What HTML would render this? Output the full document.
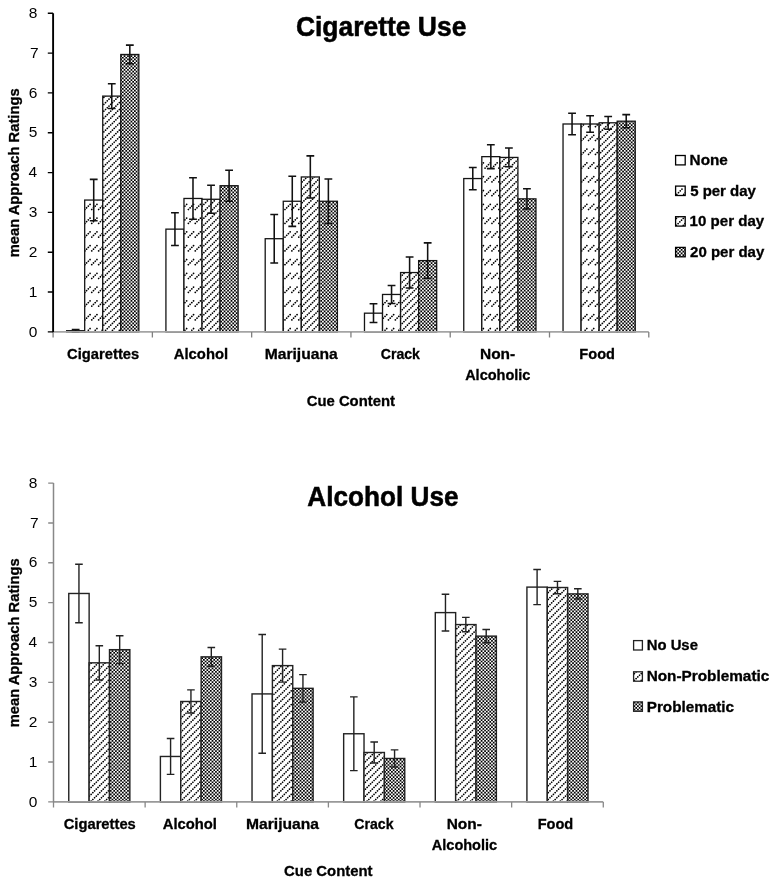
<!DOCTYPE html><html><head><meta charset="utf-8"><style>html,body{margin:0;padding:0;background:#fff;}svg{display:block;will-change:transform;} text{font-family:"Liberation Sans", sans-serif;}</style></head><body>
<svg width="776" height="884" viewBox="0 0 776 884">
<rect width="776" height="884" fill="#fff"/>
<rect x="66.64" y="330.71" width="18.05" height="1.19" fill="#fff" stroke="#151515" stroke-width="1.3"/>
<clipPath id="k1"><rect x="84.69" y="200.06" width="18.05" height="131.84"/></clipPath>
<g clip-path="url(#k1)">
<rect x="84.69" y="200.06" width="18.05" height="131.84" fill="#fff"/>
<path d="M84.870 209.500l5.195 -5.195M91.770 209.500l5.195 -5.195M98.670 209.500l5.195 -5.195M84.870 223.300l5.195 -5.195M91.770 223.300l5.195 -5.195M98.670 223.300l5.195 -5.195M84.870 237.100l5.195 -5.195M91.770 237.100l5.195 -5.195M98.670 237.100l5.195 -5.195M84.870 250.900l5.195 -5.195M91.770 250.900l5.195 -5.195M98.670 250.900l5.195 -5.195M84.870 264.700l5.195 -5.195M91.770 264.700l5.195 -5.195M98.670 264.700l5.195 -5.195M84.870 278.500l5.195 -5.195M91.770 278.500l5.195 -5.195M98.670 278.500l5.195 -5.195M84.870 292.300l5.195 -5.195M91.770 292.300l5.195 -5.195M98.670 292.300l5.195 -5.195M84.870 306.100l5.195 -5.195M91.770 306.100l5.195 -5.195M98.670 306.100l5.195 -5.195M84.870 319.900l5.195 -5.195M91.770 319.900l5.195 -5.195M98.670 319.900l5.195 -5.195M84.870 333.700l5.195 -5.195M91.770 333.700l5.195 -5.195M98.670 333.700l5.195 -5.195" stroke="#000" stroke-width="1.7" stroke-linecap="round" stroke-dasharray="0.01 2.4295" fill="none"/>
</g>
<rect x="84.69" y="200.06" width="18.05" height="131.84" fill="none" stroke="#151515" stroke-width="1.3"/>
<clipPath id="k2"><rect x="102.74" y="96.11" width="18.05" height="235.79"/></clipPath>
<g clip-path="url(#k2)">
<rect x="102.74" y="96.11" width="18.05" height="235.79" fill="#fff"/>
<path d="M-148.020 335.470l241.52 -241.52M-141.120 335.470l241.52 -241.52M-134.220 335.470l241.52 -241.52M-127.320 335.470l241.52 -241.52M-120.420 335.470l241.52 -241.52M-113.520 335.470l241.52 -241.52M-106.620 335.470l241.52 -241.52M-99.720 335.470l241.52 -241.52M-92.820 335.470l241.52 -241.52M-85.920 335.470l241.52 -241.52M-79.020 335.470l241.52 -241.52M-72.120 335.470l241.52 -241.52M-65.220 335.470l241.52 -241.52M-58.320 335.470l241.52 -241.52M-51.420 335.470l241.52 -241.52M-44.520 335.470l241.52 -241.52M-37.620 335.470l241.52 -241.52M-30.720 335.470l241.52 -241.52M-23.820 335.470l241.52 -241.52M-16.920 335.470l241.52 -241.52M-10.020 335.470l241.52 -241.52M-3.120 335.470l241.52 -241.52M3.780 335.470l241.52 -241.52M10.680 335.470l241.52 -241.52M17.580 335.470l241.52 -241.52M24.480 335.470l241.52 -241.52M31.380 335.470l241.52 -241.52M38.280 335.470l241.52 -241.52M45.180 335.470l241.52 -241.52M52.080 335.470l241.52 -241.52M58.980 335.470l241.52 -241.52M65.880 335.470l241.52 -241.52M72.780 335.470l241.52 -241.52M79.680 335.470l241.52 -241.52M86.580 335.470l241.52 -241.52M93.480 335.470l241.52 -241.52M100.380 335.470l241.52 -241.52M107.280 335.470l241.52 -241.52M114.180 335.470l241.52 -241.52M121.080 335.470l241.52 -241.52M127.980 335.470l241.52 -241.52" stroke="#000" stroke-width="1.7" stroke-linecap="round" stroke-dasharray="0.01 2.4295" fill="none"/>
</g>
<rect x="102.74" y="96.11" width="18.05" height="235.79" fill="none" stroke="#151515" stroke-width="1.3"/>
<clipPath id="k3"><rect x="120.79" y="54.48" width="18.05" height="277.42"/></clipPath>
<g clip-path="url(#k3)">
<rect x="120.79" y="54.48" width="18.05" height="277.42" fill="#fff"/>
<path d="M116.768 52.570H140.84M116.768 56.020H140.84M116.768 59.470H140.84M116.768 62.920H140.84M116.768 66.370H140.84M116.768 69.820H140.84M116.768 73.270H140.84M116.768 76.720H140.84M116.768 80.170H140.84M116.768 83.620H140.84M116.768 87.070H140.84M116.768 90.520H140.84M116.768 93.970H140.84M116.768 97.420H140.84M116.768 100.870H140.84M116.768 104.320H140.84M116.768 107.770H140.84M116.768 111.220H140.84M116.768 114.670H140.84M116.768 118.120H140.84M116.768 121.570H140.84M116.768 125.020H140.84M116.768 128.470H140.84M116.768 131.920H140.84M116.768 135.370H140.84M116.768 138.820H140.84M116.768 142.270H140.84M116.768 145.720H140.84M116.768 149.170H140.84M116.768 152.620H140.84M116.768 156.070H140.84M116.768 159.520H140.84M116.768 162.970H140.84M116.768 166.420H140.84M116.768 169.870H140.84M116.768 173.320H140.84M116.768 176.770H140.84M116.768 180.220H140.84M116.768 183.670H140.84M116.768 187.120H140.84M116.768 190.570H140.84M116.768 194.020H140.84M116.768 197.470H140.84M116.768 200.920H140.84M116.768 204.370H140.84M116.768 207.820H140.84M116.768 211.270H140.84M116.768 214.720H140.84M116.768 218.170H140.84M116.768 221.620H140.84M116.768 225.070H140.84M116.768 228.520H140.84M116.768 231.970H140.84M116.768 235.420H140.84M116.768 238.870H140.84M116.768 242.320H140.84M116.768 245.770H140.84M116.768 249.220H140.84M116.768 252.670H140.84M116.768 256.120H140.84M116.768 259.570H140.84M116.768 263.020H140.84M116.768 266.470H140.84M116.768 269.920H140.84M116.768 273.370H140.84M116.768 276.820H140.84M116.768 280.270H140.84M116.768 283.720H140.84M116.768 287.170H140.84M116.768 290.620H140.84M116.768 294.070H140.84M116.768 297.520H140.84M116.768 300.970H140.84M116.768 304.420H140.84M116.768 307.870H140.84M116.768 311.320H140.84M116.768 314.770H140.84M116.768 318.220H140.84M116.768 321.670H140.84M116.768 325.120H140.84M116.768 328.570H140.84M116.768 332.020H140.84M116.768 335.470H140.84M118.493 54.295H140.84M118.493 57.745H140.84M118.493 61.195H140.84M118.493 64.645H140.84M118.493 68.095H140.84M118.493 71.545H140.84M118.493 74.995H140.84M118.493 78.445H140.84M118.493 81.895H140.84M118.493 85.345H140.84M118.493 88.795H140.84M118.493 92.245H140.84M118.493 95.695H140.84M118.493 99.145H140.84M118.493 102.595H140.84M118.493 106.045H140.84M118.493 109.495H140.84M118.493 112.945H140.84M118.493 116.395H140.84M118.493 119.845H140.84M118.493 123.295H140.84M118.493 126.745H140.84M118.493 130.195H140.84M118.493 133.645H140.84M118.493 137.095H140.84M118.493 140.545H140.84M118.493 143.995H140.84M118.493 147.445H140.84M118.493 150.895H140.84M118.493 154.345H140.84M118.493 157.795H140.84M118.493 161.245H140.84M118.493 164.695H140.84M118.493 168.145H140.84M118.493 171.595H140.84M118.493 175.045H140.84M118.493 178.495H140.84M118.493 181.945H140.84M118.493 185.395H140.84M118.493 188.845H140.84M118.493 192.295H140.84M118.493 195.745H140.84M118.493 199.195H140.84M118.493 202.645H140.84M118.493 206.095H140.84M118.493 209.545H140.84M118.493 212.995H140.84M118.493 216.445H140.84M118.493 219.895H140.84M118.493 223.345H140.84M118.493 226.795H140.84M118.493 230.245H140.84M118.493 233.695H140.84M118.493 237.145H140.84M118.493 240.595H140.84M118.493 244.045H140.84M118.493 247.495H140.84M118.493 250.945H140.84M118.493 254.395H140.84M118.493 257.845H140.84M118.493 261.295H140.84M118.493 264.745H140.84M118.493 268.195H140.84M118.493 271.645H140.84M118.493 275.095H140.84M118.493 278.545H140.84M118.493 281.995H140.84M118.493 285.445H140.84M118.493 288.895H140.84M118.493 292.345H140.84M118.493 295.795H140.84M118.493 299.245H140.84M118.493 302.695H140.84M118.493 306.145H140.84M118.493 309.595H140.84M118.493 313.045H140.84M118.493 316.495H140.84M118.493 319.945H140.84M118.493 323.395H140.84M118.493 326.845H140.84M118.493 330.295H140.84M118.493 333.745H140.84" stroke="#000" stroke-width="1.725" stroke-dasharray="1.725 1.725" fill="none"/>
</g>
<rect x="120.79" y="54.48" width="18.05" height="277.42" fill="none" stroke="#151515" stroke-width="1.3"/>
<rect x="165.92" y="229.14" width="18.05" height="102.76" fill="#fff" stroke="#151515" stroke-width="1.3"/>
<clipPath id="k4"><rect x="183.97" y="198.47" width="18.05" height="133.43"/></clipPath>
<g clip-path="url(#k4)">
<rect x="183.97" y="198.47" width="18.05" height="133.43" fill="#fff"/>
<path d="M181.470 209.500l5.195 -5.195M188.370 209.500l5.195 -5.195M195.270 209.500l5.195 -5.195M202.170 209.500l5.195 -5.195M181.470 223.300l5.195 -5.195M188.370 223.300l5.195 -5.195M195.270 223.300l5.195 -5.195M202.170 223.300l5.195 -5.195M181.470 237.100l5.195 -5.195M188.370 237.100l5.195 -5.195M195.270 237.100l5.195 -5.195M202.170 237.100l5.195 -5.195M181.470 250.900l5.195 -5.195M188.370 250.900l5.195 -5.195M195.270 250.900l5.195 -5.195M202.170 250.900l5.195 -5.195M181.470 264.700l5.195 -5.195M188.370 264.700l5.195 -5.195M195.270 264.700l5.195 -5.195M202.170 264.700l5.195 -5.195M181.470 278.500l5.195 -5.195M188.370 278.500l5.195 -5.195M195.270 278.500l5.195 -5.195M202.170 278.500l5.195 -5.195M181.470 292.300l5.195 -5.195M188.370 292.300l5.195 -5.195M195.270 292.300l5.195 -5.195M202.170 292.300l5.195 -5.195M181.470 306.100l5.195 -5.195M188.370 306.100l5.195 -5.195M195.270 306.100l5.195 -5.195M202.170 306.100l5.195 -5.195M181.470 319.900l5.195 -5.195M188.370 319.900l5.195 -5.195M195.270 319.900l5.195 -5.195M202.170 319.900l5.195 -5.195M181.470 333.700l5.195 -5.195M188.370 333.700l5.195 -5.195M195.270 333.700l5.195 -5.195M202.170 333.700l5.195 -5.195" stroke="#000" stroke-width="1.7" stroke-linecap="round" stroke-dasharray="0.01 2.4295" fill="none"/>
</g>
<rect x="183.97" y="198.47" width="18.05" height="133.43" fill="none" stroke="#151515" stroke-width="1.3"/>
<clipPath id="k5"><rect x="202.02" y="199.27" width="18.05" height="132.63"/></clipPath>
<g clip-path="url(#k5)">
<rect x="202.02" y="199.27" width="18.05" height="132.63" fill="#fff"/>
<path d="M52.080 335.470l138.36 -138.36M58.980 335.470l138.36 -138.36M65.880 335.470l138.36 -138.36M72.780 335.470l138.36 -138.36M79.680 335.470l138.36 -138.36M86.580 335.470l138.36 -138.36M93.480 335.470l138.36 -138.36M100.380 335.470l138.36 -138.36M107.280 335.470l138.36 -138.36M114.180 335.470l138.36 -138.36M121.080 335.470l138.36 -138.36M127.980 335.470l138.36 -138.36M134.880 335.470l138.36 -138.36M141.780 335.470l138.36 -138.36M148.680 335.470l138.36 -138.36M155.580 335.470l138.36 -138.36M162.480 335.470l138.36 -138.36M169.380 335.470l138.36 -138.36M176.280 335.470l138.36 -138.36M183.180 335.470l138.36 -138.36M190.080 335.470l138.36 -138.36M196.980 335.470l138.36 -138.36M203.880 335.470l138.36 -138.36M210.780 335.470l138.36 -138.36M217.680 335.470l138.36 -138.36M224.580 335.470l138.36 -138.36" stroke="#000" stroke-width="1.7" stroke-linecap="round" stroke-dasharray="0.01 2.4295" fill="none"/>
</g>
<rect x="202.02" y="199.27" width="18.05" height="132.63" fill="none" stroke="#151515" stroke-width="1.3"/>
<clipPath id="k6"><rect x="220.07" y="185.72" width="18.05" height="146.18"/></clipPath>
<g clip-path="url(#k6)">
<rect x="220.07" y="185.72" width="18.05" height="146.18" fill="#fff"/>
<path d="M216.818 183.670H240.12M216.818 187.120H240.12M216.818 190.570H240.12M216.818 194.020H240.12M216.818 197.470H240.12M216.818 200.920H240.12M216.818 204.370H240.12M216.818 207.820H240.12M216.818 211.270H240.12M216.818 214.720H240.12M216.818 218.170H240.12M216.818 221.620H240.12M216.818 225.070H240.12M216.818 228.520H240.12M216.818 231.970H240.12M216.818 235.420H240.12M216.818 238.870H240.12M216.818 242.320H240.12M216.818 245.770H240.12M216.818 249.220H240.12M216.818 252.670H240.12M216.818 256.120H240.12M216.818 259.570H240.12M216.818 263.020H240.12M216.818 266.470H240.12M216.818 269.920H240.12M216.818 273.370H240.12M216.818 276.820H240.12M216.818 280.270H240.12M216.818 283.720H240.12M216.818 287.170H240.12M216.818 290.620H240.12M216.818 294.070H240.12M216.818 297.520H240.12M216.818 300.970H240.12M216.818 304.420H240.12M216.818 307.870H240.12M216.818 311.320H240.12M216.818 314.770H240.12M216.818 318.220H240.12M216.818 321.670H240.12M216.818 325.120H240.12M216.818 328.570H240.12M216.818 332.020H240.12M216.818 335.470H240.12M218.543 185.395H240.12M218.543 188.845H240.12M218.543 192.295H240.12M218.543 195.745H240.12M218.543 199.195H240.12M218.543 202.645H240.12M218.543 206.095H240.12M218.543 209.545H240.12M218.543 212.995H240.12M218.543 216.445H240.12M218.543 219.895H240.12M218.543 223.345H240.12M218.543 226.795H240.12M218.543 230.245H240.12M218.543 233.695H240.12M218.543 237.145H240.12M218.543 240.595H240.12M218.543 244.045H240.12M218.543 247.495H240.12M218.543 250.945H240.12M218.543 254.395H240.12M218.543 257.845H240.12M218.543 261.295H240.12M218.543 264.745H240.12M218.543 268.195H240.12M218.543 271.645H240.12M218.543 275.095H240.12M218.543 278.545H240.12M218.543 281.995H240.12M218.543 285.445H240.12M218.543 288.895H240.12M218.543 292.345H240.12M218.543 295.795H240.12M218.543 299.245H240.12M218.543 302.695H240.12M218.543 306.145H240.12M218.543 309.595H240.12M218.543 313.045H240.12M218.543 316.495H240.12M218.543 319.945H240.12M218.543 323.395H240.12M218.543 326.845H240.12M218.543 330.295H240.12M218.543 333.745H240.12" stroke="#000" stroke-width="1.725" stroke-dasharray="1.725 1.725" fill="none"/>
</g>
<rect x="220.07" y="185.72" width="18.05" height="146.18" fill="none" stroke="#151515" stroke-width="1.3"/>
<rect x="265.20" y="238.70" width="18.05" height="93.20" fill="#fff" stroke="#151515" stroke-width="1.3"/>
<clipPath id="k7"><rect x="283.25" y="201.26" width="18.05" height="130.64"/></clipPath>
<g clip-path="url(#k7)">
<rect x="283.25" y="201.26" width="18.05" height="130.64" fill="#fff"/>
<path d="M278.070 209.500l5.195 -5.195M284.970 209.500l5.195 -5.195M291.870 209.500l5.195 -5.195M298.770 209.500l5.195 -5.195M278.070 223.300l5.195 -5.195M284.970 223.300l5.195 -5.195M291.870 223.300l5.195 -5.195M298.770 223.300l5.195 -5.195M278.070 237.100l5.195 -5.195M284.970 237.100l5.195 -5.195M291.870 237.100l5.195 -5.195M298.770 237.100l5.195 -5.195M278.070 250.900l5.195 -5.195M284.970 250.900l5.195 -5.195M291.870 250.900l5.195 -5.195M298.770 250.900l5.195 -5.195M278.070 264.700l5.195 -5.195M284.970 264.700l5.195 -5.195M291.870 264.700l5.195 -5.195M298.770 264.700l5.195 -5.195M278.070 278.500l5.195 -5.195M284.970 278.500l5.195 -5.195M291.870 278.500l5.195 -5.195M298.770 278.500l5.195 -5.195M278.070 292.300l5.195 -5.195M284.970 292.300l5.195 -5.195M291.870 292.300l5.195 -5.195M298.770 292.300l5.195 -5.195M278.070 306.100l5.195 -5.195M284.970 306.100l5.195 -5.195M291.870 306.100l5.195 -5.195M298.770 306.100l5.195 -5.195M278.070 319.900l5.195 -5.195M284.970 319.900l5.195 -5.195M291.870 319.900l5.195 -5.195M298.770 319.900l5.195 -5.195M278.070 333.700l5.195 -5.195M284.970 333.700l5.195 -5.195M291.870 333.700l5.195 -5.195M298.770 333.700l5.195 -5.195" stroke="#000" stroke-width="1.7" stroke-linecap="round" stroke-dasharray="0.01 2.4295" fill="none"/>
</g>
<rect x="283.25" y="201.26" width="18.05" height="130.64" fill="none" stroke="#151515" stroke-width="1.3"/>
<clipPath id="k8"><rect x="301.30" y="176.96" width="18.05" height="154.94"/></clipPath>
<g clip-path="url(#k8)">
<rect x="301.30" y="176.96" width="18.05" height="154.94" fill="#fff"/>
<path d="M134.880 335.470l160.66 -160.66M141.780 335.470l160.66 -160.66M148.680 335.470l160.66 -160.66M155.580 335.470l160.66 -160.66M162.480 335.470l160.66 -160.66M169.380 335.470l160.66 -160.66M176.280 335.470l160.66 -160.66M183.180 335.470l160.66 -160.66M190.080 335.470l160.66 -160.66M196.980 335.470l160.66 -160.66M203.880 335.470l160.66 -160.66M210.780 335.470l160.66 -160.66M217.680 335.470l160.66 -160.66M224.580 335.470l160.66 -160.66M231.480 335.470l160.66 -160.66M238.380 335.470l160.66 -160.66M245.280 335.470l160.66 -160.66M252.180 335.470l160.66 -160.66M259.080 335.470l160.66 -160.66M265.980 335.470l160.66 -160.66M272.880 335.470l160.66 -160.66M279.780 335.470l160.66 -160.66M286.680 335.470l160.66 -160.66M293.580 335.470l160.66 -160.66M300.480 335.470l160.66 -160.66M307.380 335.470l160.66 -160.66M314.280 335.470l160.66 -160.66M321.180 335.470l160.66 -160.66M328.080 335.470l160.66 -160.66" stroke="#000" stroke-width="1.7" stroke-linecap="round" stroke-dasharray="0.01 2.4295" fill="none"/>
</g>
<rect x="301.30" y="176.96" width="18.05" height="154.94" fill="none" stroke="#151515" stroke-width="1.3"/>
<clipPath id="k9"><rect x="319.35" y="201.26" width="18.05" height="130.64"/></clipPath>
<g clip-path="url(#k9)">
<rect x="319.35" y="201.26" width="18.05" height="130.64" fill="#fff"/>
<path d="M316.868 200.920H339.40M316.868 204.370H339.40M316.868 207.820H339.40M316.868 211.270H339.40M316.868 214.720H339.40M316.868 218.170H339.40M316.868 221.620H339.40M316.868 225.070H339.40M316.868 228.520H339.40M316.868 231.970H339.40M316.868 235.420H339.40M316.868 238.870H339.40M316.868 242.320H339.40M316.868 245.770H339.40M316.868 249.220H339.40M316.868 252.670H339.40M316.868 256.120H339.40M316.868 259.570H339.40M316.868 263.020H339.40M316.868 266.470H339.40M316.868 269.920H339.40M316.868 273.370H339.40M316.868 276.820H339.40M316.868 280.270H339.40M316.868 283.720H339.40M316.868 287.170H339.40M316.868 290.620H339.40M316.868 294.070H339.40M316.868 297.520H339.40M316.868 300.970H339.40M316.868 304.420H339.40M316.868 307.870H339.40M316.868 311.320H339.40M316.868 314.770H339.40M316.868 318.220H339.40M316.868 321.670H339.40M316.868 325.120H339.40M316.868 328.570H339.40M316.868 332.020H339.40M316.868 335.470H339.40M318.593 199.195H339.40M318.593 202.645H339.40M318.593 206.095H339.40M318.593 209.545H339.40M318.593 212.995H339.40M318.593 216.445H339.40M318.593 219.895H339.40M318.593 223.345H339.40M318.593 226.795H339.40M318.593 230.245H339.40M318.593 233.695H339.40M318.593 237.145H339.40M318.593 240.595H339.40M318.593 244.045H339.40M318.593 247.495H339.40M318.593 250.945H339.40M318.593 254.395H339.40M318.593 257.845H339.40M318.593 261.295H339.40M318.593 264.745H339.40M318.593 268.195H339.40M318.593 271.645H339.40M318.593 275.095H339.40M318.593 278.545H339.40M318.593 281.995H339.40M318.593 285.445H339.40M318.593 288.895H339.40M318.593 292.345H339.40M318.593 295.795H339.40M318.593 299.245H339.40M318.593 302.695H339.40M318.593 306.145H339.40M318.593 309.595H339.40M318.593 313.045H339.40M318.593 316.495H339.40M318.593 319.945H339.40M318.593 323.395H339.40M318.593 326.845H339.40M318.593 330.295H339.40M318.593 333.745H339.40" stroke="#000" stroke-width="1.725" stroke-dasharray="1.725 1.725" fill="none"/>
</g>
<rect x="319.35" y="201.26" width="18.05" height="130.64" fill="none" stroke="#151515" stroke-width="1.3"/>
<rect x="364.48" y="313.18" width="18.05" height="18.72" fill="#fff" stroke="#151515" stroke-width="1.3"/>
<clipPath id="k10"><rect x="382.53" y="294.46" width="18.05" height="37.44"/></clipPath>
<g clip-path="url(#k10)">
<rect x="382.53" y="294.46" width="18.05" height="37.44" fill="#fff"/>
<path d="M381.570 306.100l5.195 -5.195M388.470 306.100l5.195 -5.195M395.370 306.100l5.195 -5.195M381.570 319.900l5.195 -5.195M388.470 319.900l5.195 -5.195M395.370 319.900l5.195 -5.195M381.570 333.700l5.195 -5.195M388.470 333.700l5.195 -5.195M395.370 333.700l5.195 -5.195" stroke="#000" stroke-width="1.7" stroke-linecap="round" stroke-dasharray="0.01 2.4295" fill="none"/>
</g>
<rect x="382.53" y="294.46" width="18.05" height="37.44" fill="none" stroke="#151515" stroke-width="1.3"/>
<clipPath id="k11"><rect x="400.58" y="272.55" width="18.05" height="59.35"/></clipPath>
<g clip-path="url(#k11)">
<rect x="400.58" y="272.55" width="18.05" height="59.35" fill="#fff"/>
<path d="M328.080 335.470l65.07 -65.07M334.980 335.470l65.07 -65.07M341.880 335.470l65.07 -65.07M348.780 335.470l65.07 -65.07M355.680 335.470l65.07 -65.07M362.580 335.470l65.07 -65.07M369.480 335.470l65.07 -65.07M376.380 335.470l65.07 -65.07M383.280 335.470l65.07 -65.07M390.180 335.470l65.07 -65.07M397.080 335.470l65.07 -65.07M403.980 335.470l65.07 -65.07M410.880 335.470l65.07 -65.07M417.780 335.470l65.07 -65.07M424.680 335.470l65.07 -65.07" stroke="#000" stroke-width="1.7" stroke-linecap="round" stroke-dasharray="0.01 2.4295" fill="none"/>
</g>
<rect x="400.58" y="272.55" width="18.05" height="59.35" fill="none" stroke="#151515" stroke-width="1.3"/>
<clipPath id="k12"><rect x="418.63" y="260.60" width="18.05" height="71.30"/></clipPath>
<g clip-path="url(#k12)">
<rect x="418.63" y="260.60" width="18.05" height="71.30" fill="#fff"/>
<path d="M413.467 259.570H438.68M413.467 263.020H438.68M413.467 266.470H438.68M413.467 269.920H438.68M413.467 273.370H438.68M413.467 276.820H438.68M413.467 280.270H438.68M413.467 283.720H438.68M413.467 287.170H438.68M413.467 290.620H438.68M413.467 294.070H438.68M413.467 297.520H438.68M413.467 300.970H438.68M413.467 304.420H438.68M413.467 307.870H438.68M413.467 311.320H438.68M413.467 314.770H438.68M413.467 318.220H438.68M413.467 321.670H438.68M413.467 325.120H438.68M413.467 328.570H438.68M413.467 332.020H438.68M413.467 335.470H438.68M415.192 261.295H438.68M415.192 264.745H438.68M415.192 268.195H438.68M415.192 271.645H438.68M415.192 275.095H438.68M415.192 278.545H438.68M415.192 281.995H438.68M415.192 285.445H438.68M415.192 288.895H438.68M415.192 292.345H438.68M415.192 295.795H438.68M415.192 299.245H438.68M415.192 302.695H438.68M415.192 306.145H438.68M415.192 309.595H438.68M415.192 313.045H438.68M415.192 316.495H438.68M415.192 319.945H438.68M415.192 323.395H438.68M415.192 326.845H438.68M415.192 330.295H438.68M415.192 333.745H438.68" stroke="#000" stroke-width="1.725" stroke-dasharray="1.725 1.725" fill="none"/>
</g>
<rect x="418.63" y="260.60" width="18.05" height="71.30" fill="none" stroke="#151515" stroke-width="1.3"/>
<rect x="463.76" y="178.55" width="18.05" height="153.35" fill="#fff" stroke="#151515" stroke-width="1.3"/>
<clipPath id="k13"><rect x="481.81" y="156.65" width="18.05" height="175.25"/></clipPath>
<g clip-path="url(#k13)">
<rect x="481.81" y="156.65" width="18.05" height="175.25" fill="#fff"/>
<path d="M478.170 168.100l5.195 -5.195M485.070 168.100l5.195 -5.195M491.970 168.100l5.195 -5.195M498.870 168.100l5.195 -5.195M478.170 181.900l5.195 -5.195M485.070 181.900l5.195 -5.195M491.970 181.900l5.195 -5.195M498.870 181.900l5.195 -5.195M478.170 195.700l5.195 -5.195M485.070 195.700l5.195 -5.195M491.970 195.700l5.195 -5.195M498.870 195.700l5.195 -5.195M478.170 209.500l5.195 -5.195M485.070 209.500l5.195 -5.195M491.970 209.500l5.195 -5.195M498.870 209.500l5.195 -5.195M478.170 223.300l5.195 -5.195M485.070 223.300l5.195 -5.195M491.970 223.300l5.195 -5.195M498.870 223.300l5.195 -5.195M478.170 237.100l5.195 -5.195M485.070 237.100l5.195 -5.195M491.970 237.100l5.195 -5.195M498.870 237.100l5.195 -5.195M478.170 250.900l5.195 -5.195M485.070 250.900l5.195 -5.195M491.970 250.900l5.195 -5.195M498.870 250.900l5.195 -5.195M478.170 264.700l5.195 -5.195M485.070 264.700l5.195 -5.195M491.970 264.700l5.195 -5.195M498.870 264.700l5.195 -5.195M478.170 278.500l5.195 -5.195M485.070 278.500l5.195 -5.195M491.970 278.500l5.195 -5.195M498.870 278.500l5.195 -5.195M478.170 292.300l5.195 -5.195M485.070 292.300l5.195 -5.195M491.970 292.300l5.195 -5.195M498.870 292.300l5.195 -5.195M478.170 306.100l5.195 -5.195M485.070 306.100l5.195 -5.195M491.970 306.100l5.195 -5.195M498.870 306.100l5.195 -5.195M478.170 319.900l5.195 -5.195M485.070 319.900l5.195 -5.195M491.970 319.900l5.195 -5.195M498.870 319.900l5.195 -5.195M478.170 333.700l5.195 -5.195M485.070 333.700l5.195 -5.195M491.970 333.700l5.195 -5.195M498.870 333.700l5.195 -5.195" stroke="#000" stroke-width="1.7" stroke-linecap="round" stroke-dasharray="0.01 2.4295" fill="none"/>
</g>
<rect x="481.81" y="156.65" width="18.05" height="175.25" fill="none" stroke="#151515" stroke-width="1.3"/>
<clipPath id="k14"><rect x="499.86" y="157.44" width="18.05" height="174.46"/></clipPath>
<g clip-path="url(#k14)">
<rect x="499.86" y="157.44" width="18.05" height="174.46" fill="#fff"/>
<path d="M314.280 335.470l180.18 -180.18M321.180 335.470l180.18 -180.18M328.080 335.470l180.18 -180.18M334.980 335.470l180.18 -180.18M341.880 335.470l180.18 -180.18M348.780 335.470l180.18 -180.18M355.680 335.470l180.18 -180.18M362.580 335.470l180.18 -180.18M369.480 335.470l180.18 -180.18M376.380 335.470l180.18 -180.18M383.280 335.470l180.18 -180.18M390.180 335.470l180.18 -180.18M397.080 335.470l180.18 -180.18M403.980 335.470l180.18 -180.18M410.880 335.470l180.18 -180.18M417.780 335.470l180.18 -180.18M424.680 335.470l180.18 -180.18M431.580 335.470l180.18 -180.18M438.480 335.470l180.18 -180.18M445.380 335.470l180.18 -180.18M452.280 335.470l180.18 -180.18M459.180 335.470l180.18 -180.18M466.080 335.470l180.18 -180.18M472.980 335.470l180.18 -180.18M479.880 335.470l180.18 -180.18M486.780 335.470l180.18 -180.18M493.680 335.470l180.18 -180.18M500.580 335.470l180.18 -180.18M507.480 335.470l180.18 -180.18M514.380 335.470l180.18 -180.18M521.280 335.470l180.18 -180.18" stroke="#000" stroke-width="1.7" stroke-linecap="round" stroke-dasharray="0.01 2.4295" fill="none"/>
</g>
<rect x="499.86" y="157.44" width="18.05" height="174.46" fill="none" stroke="#151515" stroke-width="1.3"/>
<clipPath id="k15"><rect x="517.91" y="198.87" width="18.05" height="133.03"/></clipPath>
<g clip-path="url(#k15)">
<rect x="517.91" y="198.87" width="18.05" height="133.03" fill="#fff"/>
<path d="M513.518 197.470H537.96M513.518 200.920H537.96M513.518 204.370H537.96M513.518 207.820H537.96M513.518 211.270H537.96M513.518 214.720H537.96M513.518 218.170H537.96M513.518 221.620H537.96M513.518 225.070H537.96M513.518 228.520H537.96M513.518 231.970H537.96M513.518 235.420H537.96M513.518 238.870H537.96M513.518 242.320H537.96M513.518 245.770H537.96M513.518 249.220H537.96M513.518 252.670H537.96M513.518 256.120H537.96M513.518 259.570H537.96M513.518 263.020H537.96M513.518 266.470H537.96M513.518 269.920H537.96M513.518 273.370H537.96M513.518 276.820H537.96M513.518 280.270H537.96M513.518 283.720H537.96M513.518 287.170H537.96M513.518 290.620H537.96M513.518 294.070H537.96M513.518 297.520H537.96M513.518 300.970H537.96M513.518 304.420H537.96M513.518 307.870H537.96M513.518 311.320H537.96M513.518 314.770H537.96M513.518 318.220H537.96M513.518 321.670H537.96M513.518 325.120H537.96M513.518 328.570H537.96M513.518 332.020H537.96M513.518 335.470H537.96M515.243 199.195H537.96M515.243 202.645H537.96M515.243 206.095H537.96M515.243 209.545H537.96M515.243 212.995H537.96M515.243 216.445H537.96M515.243 219.895H537.96M515.243 223.345H537.96M515.243 226.795H537.96M515.243 230.245H537.96M515.243 233.695H537.96M515.243 237.145H537.96M515.243 240.595H537.96M515.243 244.045H537.96M515.243 247.495H537.96M515.243 250.945H537.96M515.243 254.395H537.96M515.243 257.845H537.96M515.243 261.295H537.96M515.243 264.745H537.96M515.243 268.195H537.96M515.243 271.645H537.96M515.243 275.095H537.96M515.243 278.545H537.96M515.243 281.995H537.96M515.243 285.445H537.96M515.243 288.895H537.96M515.243 292.345H537.96M515.243 295.795H537.96M515.243 299.245H537.96M515.243 302.695H537.96M515.243 306.145H537.96M515.243 309.595H537.96M515.243 313.045H537.96M515.243 316.495H537.96M515.243 319.945H537.96M515.243 323.395H537.96M515.243 326.845H537.96M515.243 330.295H537.96M515.243 333.745H537.96" stroke="#000" stroke-width="1.725" stroke-dasharray="1.725 1.725" fill="none"/>
</g>
<rect x="517.91" y="198.87" width="18.05" height="133.03" fill="none" stroke="#151515" stroke-width="1.3"/>
<rect x="563.04" y="123.99" width="18.05" height="207.91" fill="#fff" stroke="#151515" stroke-width="1.3"/>
<clipPath id="k16"><rect x="581.09" y="123.99" width="18.05" height="207.91"/></clipPath>
<g clip-path="url(#k16)">
<rect x="581.09" y="123.99" width="18.05" height="207.91" fill="#fff"/>
<path d="M581.670 126.700l5.195 -5.195M588.570 126.700l5.195 -5.195M595.470 126.700l5.195 -5.195M581.670 140.500l5.195 -5.195M588.570 140.500l5.195 -5.195M595.470 140.500l5.195 -5.195M581.670 154.300l5.195 -5.195M588.570 154.300l5.195 -5.195M595.470 154.300l5.195 -5.195M581.670 168.100l5.195 -5.195M588.570 168.100l5.195 -5.195M595.470 168.100l5.195 -5.195M581.670 181.900l5.195 -5.195M588.570 181.900l5.195 -5.195M595.470 181.900l5.195 -5.195M581.670 195.700l5.195 -5.195M588.570 195.700l5.195 -5.195M595.470 195.700l5.195 -5.195M581.670 209.500l5.195 -5.195M588.570 209.500l5.195 -5.195M595.470 209.500l5.195 -5.195M581.670 223.300l5.195 -5.195M588.570 223.300l5.195 -5.195M595.470 223.300l5.195 -5.195M581.670 237.100l5.195 -5.195M588.570 237.100l5.195 -5.195M595.470 237.100l5.195 -5.195M581.670 250.900l5.195 -5.195M588.570 250.900l5.195 -5.195M595.470 250.900l5.195 -5.195M581.670 264.700l5.195 -5.195M588.570 264.700l5.195 -5.195M595.470 264.700l5.195 -5.195M581.670 278.500l5.195 -5.195M588.570 278.500l5.195 -5.195M595.470 278.500l5.195 -5.195M581.670 292.300l5.195 -5.195M588.570 292.300l5.195 -5.195M595.470 292.300l5.195 -5.195M581.670 306.100l5.195 -5.195M588.570 306.100l5.195 -5.195M595.470 306.100l5.195 -5.195M581.670 319.900l5.195 -5.195M588.570 319.900l5.195 -5.195M595.470 319.900l5.195 -5.195M581.670 333.700l5.195 -5.195M588.570 333.700l5.195 -5.195M595.470 333.700l5.195 -5.195" stroke="#000" stroke-width="1.7" stroke-linecap="round" stroke-dasharray="0.01 2.4295" fill="none"/>
</g>
<rect x="581.09" y="123.99" width="18.05" height="207.91" fill="none" stroke="#151515" stroke-width="1.3"/>
<clipPath id="k17"><rect x="599.14" y="122.79" width="18.05" height="209.11"/></clipPath>
<g clip-path="url(#k17)">
<rect x="599.14" y="122.79" width="18.05" height="209.11" fill="#fff"/>
<path d="M376.380 335.470l214.83 -214.83M383.280 335.470l214.83 -214.83M390.180 335.470l214.83 -214.83M397.080 335.470l214.83 -214.83M403.980 335.470l214.83 -214.83M410.880 335.470l214.83 -214.83M417.780 335.470l214.83 -214.83M424.680 335.470l214.83 -214.83M431.580 335.470l214.83 -214.83M438.480 335.470l214.83 -214.83M445.380 335.470l214.83 -214.83M452.280 335.470l214.83 -214.83M459.180 335.470l214.83 -214.83M466.080 335.470l214.83 -214.83M472.980 335.470l214.83 -214.83M479.880 335.470l214.83 -214.83M486.780 335.470l214.83 -214.83M493.680 335.470l214.83 -214.83M500.580 335.470l214.83 -214.83M507.480 335.470l214.83 -214.83M514.380 335.470l214.83 -214.83M521.280 335.470l214.83 -214.83M528.180 335.470l214.83 -214.83M535.080 335.470l214.83 -214.83M541.980 335.470l214.83 -214.83M548.880 335.470l214.83 -214.83M555.780 335.470l214.83 -214.83M562.680 335.470l214.83 -214.83M569.580 335.470l214.83 -214.83M576.480 335.470l214.83 -214.83M583.380 335.470l214.83 -214.83M590.280 335.470l214.83 -214.83M597.180 335.470l214.83 -214.83M604.080 335.470l214.83 -214.83M610.980 335.470l214.83 -214.83M617.880 335.470l214.83 -214.83M624.780 335.470l214.83 -214.83" stroke="#000" stroke-width="1.7" stroke-linecap="round" stroke-dasharray="0.01 2.4295" fill="none"/>
</g>
<rect x="599.14" y="122.79" width="18.05" height="209.11" fill="none" stroke="#151515" stroke-width="1.3"/>
<clipPath id="k18"><rect x="617.19" y="121.20" width="18.05" height="210.70"/></clipPath>
<g clip-path="url(#k18)">
<rect x="617.19" y="121.20" width="18.05" height="210.70" fill="#fff"/>
<path d="M613.567 121.570H637.24M613.567 125.020H637.24M613.567 128.470H637.24M613.567 131.920H637.24M613.567 135.370H637.24M613.567 138.820H637.24M613.567 142.270H637.24M613.567 145.720H637.24M613.567 149.170H637.24M613.567 152.620H637.24M613.567 156.070H637.24M613.567 159.520H637.24M613.567 162.970H637.24M613.567 166.420H637.24M613.567 169.870H637.24M613.567 173.320H637.24M613.567 176.770H637.24M613.567 180.220H637.24M613.567 183.670H637.24M613.567 187.120H637.24M613.567 190.570H637.24M613.567 194.020H637.24M613.567 197.470H637.24M613.567 200.920H637.24M613.567 204.370H637.24M613.567 207.820H637.24M613.567 211.270H637.24M613.567 214.720H637.24M613.567 218.170H637.24M613.567 221.620H637.24M613.567 225.070H637.24M613.567 228.520H637.24M613.567 231.970H637.24M613.567 235.420H637.24M613.567 238.870H637.24M613.567 242.320H637.24M613.567 245.770H637.24M613.567 249.220H637.24M613.567 252.670H637.24M613.567 256.120H637.24M613.567 259.570H637.24M613.567 263.020H637.24M613.567 266.470H637.24M613.567 269.920H637.24M613.567 273.370H637.24M613.567 276.820H637.24M613.567 280.270H637.24M613.567 283.720H637.24M613.567 287.170H637.24M613.567 290.620H637.24M613.567 294.070H637.24M613.567 297.520H637.24M613.567 300.970H637.24M613.567 304.420H637.24M613.567 307.870H637.24M613.567 311.320H637.24M613.567 314.770H637.24M613.567 318.220H637.24M613.567 321.670H637.24M613.567 325.120H637.24M613.567 328.570H637.24M613.567 332.020H637.24M613.567 335.470H637.24M615.293 119.845H637.24M615.293 123.295H637.24M615.293 126.745H637.24M615.293 130.195H637.24M615.293 133.645H637.24M615.293 137.095H637.24M615.293 140.545H637.24M615.293 143.995H637.24M615.293 147.445H637.24M615.293 150.895H637.24M615.293 154.345H637.24M615.293 157.795H637.24M615.293 161.245H637.24M615.293 164.695H637.24M615.293 168.145H637.24M615.293 171.595H637.24M615.293 175.045H637.24M615.293 178.495H637.24M615.293 181.945H637.24M615.293 185.395H637.24M615.293 188.845H637.24M615.293 192.295H637.24M615.293 195.745H637.24M615.293 199.195H637.24M615.293 202.645H637.24M615.293 206.095H637.24M615.293 209.545H637.24M615.293 212.995H637.24M615.293 216.445H637.24M615.293 219.895H637.24M615.293 223.345H637.24M615.293 226.795H637.24M615.293 230.245H637.24M615.293 233.695H637.24M615.293 237.145H637.24M615.293 240.595H637.24M615.293 244.045H637.24M615.293 247.495H637.24M615.293 250.945H637.24M615.293 254.395H637.24M615.293 257.845H637.24M615.293 261.295H637.24M615.293 264.745H637.24M615.293 268.195H637.24M615.293 271.645H637.24M615.293 275.095H637.24M615.293 278.545H637.24M615.293 281.995H637.24M615.293 285.445H637.24M615.293 288.895H637.24M615.293 292.345H637.24M615.293 295.795H637.24M615.293 299.245H637.24M615.293 302.695H637.24M615.293 306.145H637.24M615.293 309.595H637.24M615.293 313.045H637.24M615.293 316.495H637.24M615.293 319.945H637.24M615.293 323.395H637.24M615.293 326.845H637.24M615.293 330.295H637.24M615.293 333.745H637.24" stroke="#000" stroke-width="1.725" stroke-dasharray="1.725 1.725" fill="none"/>
</g>
<rect x="617.19" y="121.20" width="18.05" height="210.70" fill="none" stroke="#151515" stroke-width="1.3"/>
<path d="M75.66 329.51V331.90M71.76 329.51H79.56M71.76 331.90H79.56" stroke="#111" stroke-width="1.55" fill="none"/>
<path d="M93.71 179.35V220.77M89.81 179.35H97.61M89.81 220.77H97.61" stroke="#111" stroke-width="1.55" fill="none"/>
<path d="M111.77 83.76V108.45M107.87 83.76H115.67M107.87 108.45H115.67" stroke="#111" stroke-width="1.55" fill="none"/>
<path d="M129.82 45.12V63.84M125.92 45.12H133.72M125.92 63.84H133.72" stroke="#111" stroke-width="1.55" fill="none"/>
<path d="M174.94 212.81V245.47M171.04 212.81H178.84M171.04 245.47H178.84" stroke="#111" stroke-width="1.55" fill="none"/>
<path d="M192.99 177.76V219.18M189.09 177.76H196.89M189.09 219.18H196.89" stroke="#111" stroke-width="1.55" fill="none"/>
<path d="M211.05 185.33V213.21M207.15 185.33H214.95M207.15 213.21H214.95" stroke="#111" stroke-width="1.55" fill="none"/>
<path d="M229.10 170.19V201.26M225.20 170.19H233.00M225.20 201.26H233.00" stroke="#111" stroke-width="1.55" fill="none"/>
<path d="M274.22 214.40V262.99M270.32 214.40H278.12M270.32 262.99H278.12" stroke="#111" stroke-width="1.55" fill="none"/>
<path d="M292.27 176.16V226.35M288.37 176.16H296.17M288.37 226.35H296.17" stroke="#111" stroke-width="1.55" fill="none"/>
<path d="M310.33 155.85V198.07M306.43 155.85H314.23M306.43 198.07H314.23" stroke="#111" stroke-width="1.55" fill="none"/>
<path d="M328.38 178.95V223.56M324.48 178.95H332.28M324.48 223.56H332.28" stroke="#111" stroke-width="1.55" fill="none"/>
<path d="M373.50 303.82V322.54M369.60 303.82H377.40M369.60 322.54H377.40" stroke="#111" stroke-width="1.55" fill="none"/>
<path d="M391.55 285.50V303.42M387.65 285.50H395.45M387.65 303.42H395.45" stroke="#111" stroke-width="1.55" fill="none"/>
<path d="M409.61 257.02V288.09M405.71 257.02H413.51M405.71 288.09H413.51" stroke="#111" stroke-width="1.55" fill="none"/>
<path d="M427.66 242.88V278.33M423.76 242.88H431.56M423.76 278.33H431.56" stroke="#111" stroke-width="1.55" fill="none"/>
<path d="M472.78 167.40V189.71M468.88 167.40H476.68M468.88 189.71H476.68" stroke="#111" stroke-width="1.55" fill="none"/>
<path d="M490.83 144.70V168.60M486.93 144.70H494.73M486.93 168.60H494.73" stroke="#111" stroke-width="1.55" fill="none"/>
<path d="M508.89 148.08V166.80M504.99 148.08H512.79M504.99 166.80H512.79" stroke="#111" stroke-width="1.55" fill="none"/>
<path d="M526.94 188.71V209.02M523.04 188.71H530.84M523.04 209.02H530.84" stroke="#111" stroke-width="1.55" fill="none"/>
<path d="M572.06 113.23V134.74M568.16 113.23H575.96M568.16 134.74H575.96" stroke="#111" stroke-width="1.55" fill="none"/>
<path d="M590.11 115.82V132.15M586.21 115.82H594.01M586.21 132.15H594.01" stroke="#111" stroke-width="1.55" fill="none"/>
<path d="M608.17 116.42V129.17M604.27 116.42H612.07M604.27 129.17H612.07" stroke="#111" stroke-width="1.55" fill="none"/>
<path d="M626.22 114.63V127.77M622.32 114.63H630.12M622.32 127.77H630.12" stroke="#111" stroke-width="1.55" fill="none"/>
<path d="M53.10 331.90H648.78" stroke="#a4a4a4" stroke-width="1.7"/>
<path d="M53.10 331.90v5.5M152.38 331.90v5.5M251.66 331.90v5.5M350.94 331.90v5.5M450.22 331.90v5.5M549.50 331.90v5.5M648.78 331.90v5.5" stroke="#808080" stroke-width="1.3"/>
<path d="M53.10 13.26V331.90" stroke="#000" stroke-width="1.9"/>
<path d="M47.80 331.90H53.10M47.80 292.07H53.10M47.80 252.24H53.10M47.80 212.41H53.10M47.80 172.58H53.10M47.80 132.75H53.10M47.80 92.92H53.10M47.80 53.09H53.10M47.80 13.26H53.10" stroke="#000" stroke-width="1.4"/>
<text x="28.72" y="336.56" font-size="15.5">0</text>
<text x="28.87" y="296.73" font-size="15.5">1</text>
<text x="28.87" y="256.90" font-size="15.5">2</text>
<text x="28.80" y="217.07" font-size="15.5">3</text>
<text x="28.56" y="177.24" font-size="15.5">4</text>
<text x="28.72" y="137.41" font-size="15.5">5</text>
<text x="28.80" y="97.58" font-size="15.5">6</text>
<text x="30.04" y="57.75" font-size="15.5">7</text>
<text x="28.72" y="17.92" font-size="15.5">8</text>
<rect x="68.77" y="593.48" width="20.36" height="208.42" fill="#fff" stroke="#222" stroke-width="1.4"/>
<clipPath id="k19"><rect x="89.13" y="662.82" width="20.36" height="139.08"/></clipPath>
<g clip-path="url(#k19)">
<rect x="89.13" y="662.82" width="20.36" height="139.08" fill="#fff"/>
<path d="M-64.120 804.670l144.80 -144.80M-57.220 804.670l144.80 -144.80M-50.320 804.670l144.80 -144.80M-43.420 804.670l144.80 -144.80M-36.520 804.670l144.80 -144.80M-29.620 804.670l144.80 -144.80M-22.720 804.670l144.80 -144.80M-15.820 804.670l144.80 -144.80M-8.920 804.670l144.80 -144.80M-2.020 804.670l144.80 -144.80M4.880 804.670l144.80 -144.80M11.780 804.670l144.80 -144.80M18.680 804.670l144.80 -144.80M25.580 804.670l144.80 -144.80M32.480 804.670l144.80 -144.80M39.380 804.670l144.80 -144.80M46.280 804.670l144.80 -144.80M53.180 804.670l144.80 -144.80M60.080 804.670l144.80 -144.80M66.980 804.670l144.80 -144.80M73.880 804.670l144.80 -144.80M80.780 804.670l144.80 -144.80M87.680 804.670l144.80 -144.80M94.580 804.670l144.80 -144.80M101.480 804.670l144.80 -144.80M108.380 804.670l144.80 -144.80M115.280 804.670l144.80 -144.80" stroke="#000" stroke-width="1.7" stroke-linecap="round" stroke-dasharray="0.01 2.4295" fill="none"/>
</g>
<rect x="89.13" y="662.82" width="20.36" height="139.08" fill="none" stroke="#222" stroke-width="1.4"/>
<clipPath id="k20"><rect x="109.50" y="649.67" width="20.36" height="152.23"/></clipPath>
<g clip-path="url(#k20)">
<rect x="109.50" y="649.67" width="20.36" height="152.23" fill="#fff"/>
<path d="M106.418 649.420H131.86M106.418 652.870H131.86M106.418 656.320H131.86M106.418 659.770H131.86M106.418 663.220H131.86M106.418 666.670H131.86M106.418 670.120H131.86M106.418 673.570H131.86M106.418 677.020H131.86M106.418 680.470H131.86M106.418 683.920H131.86M106.418 687.370H131.86M106.418 690.820H131.86M106.418 694.270H131.86M106.418 697.720H131.86M106.418 701.170H131.86M106.418 704.620H131.86M106.418 708.070H131.86M106.418 711.520H131.86M106.418 714.970H131.86M106.418 718.420H131.86M106.418 721.870H131.86M106.418 725.320H131.86M106.418 728.770H131.86M106.418 732.220H131.86M106.418 735.670H131.86M106.418 739.120H131.86M106.418 742.570H131.86M106.418 746.020H131.86M106.418 749.470H131.86M106.418 752.920H131.86M106.418 756.370H131.86M106.418 759.820H131.86M106.418 763.270H131.86M106.418 766.720H131.86M106.418 770.170H131.86M106.418 773.620H131.86M106.418 777.070H131.86M106.418 780.520H131.86M106.418 783.970H131.86M106.418 787.420H131.86M106.418 790.870H131.86M106.418 794.320H131.86M106.418 797.770H131.86M106.418 801.220H131.86M106.418 804.670H131.86M108.142 647.695H131.86M108.142 651.145H131.86M108.142 654.595H131.86M108.142 658.045H131.86M108.142 661.495H131.86M108.142 664.945H131.86M108.142 668.395H131.86M108.142 671.845H131.86M108.142 675.295H131.86M108.142 678.745H131.86M108.142 682.195H131.86M108.142 685.645H131.86M108.142 689.095H131.86M108.142 692.545H131.86M108.142 695.995H131.86M108.142 699.445H131.86M108.142 702.895H131.86M108.142 706.345H131.86M108.142 709.795H131.86M108.142 713.245H131.86M108.142 716.695H131.86M108.142 720.145H131.86M108.142 723.595H131.86M108.142 727.045H131.86M108.142 730.495H131.86M108.142 733.945H131.86M108.142 737.395H131.86M108.142 740.845H131.86M108.142 744.295H131.86M108.142 747.745H131.86M108.142 751.195H131.86M108.142 754.645H131.86M108.142 758.095H131.86M108.142 761.545H131.86M108.142 764.995H131.86M108.142 768.445H131.86M108.142 771.895H131.86M108.142 775.345H131.86M108.142 778.795H131.86M108.142 782.245H131.86M108.142 785.695H131.86M108.142 789.145H131.86M108.142 792.595H131.86M108.142 796.045H131.86M108.142 799.495H131.86M108.142 802.945H131.86" stroke="#000" stroke-width="1.725" stroke-dasharray="1.725 1.725" fill="none"/>
</g>
<rect x="109.50" y="649.67" width="20.36" height="152.23" fill="none" stroke="#222" stroke-width="1.4"/>
<rect x="160.40" y="756.47" width="20.36" height="45.43" fill="#fff" stroke="#222" stroke-width="1.4"/>
<clipPath id="k21"><rect x="180.76" y="701.48" width="20.36" height="100.42"/></clipPath>
<g clip-path="url(#k21)">
<rect x="180.76" y="701.48" width="20.36" height="100.42" fill="#fff"/>
<path d="M66.980 804.670l106.15 -106.15M73.880 804.670l106.15 -106.15M80.780 804.670l106.15 -106.15M87.680 804.670l106.15 -106.15M94.580 804.670l106.15 -106.15M101.480 804.670l106.15 -106.15M108.380 804.670l106.15 -106.15M115.280 804.670l106.15 -106.15M122.180 804.670l106.15 -106.15M129.080 804.670l106.15 -106.15M135.980 804.670l106.15 -106.15M142.880 804.670l106.15 -106.15M149.780 804.670l106.15 -106.15M156.680 804.670l106.15 -106.15M163.580 804.670l106.15 -106.15M170.480 804.670l106.15 -106.15M177.380 804.670l106.15 -106.15M184.280 804.670l106.15 -106.15M191.180 804.670l106.15 -106.15M198.080 804.670l106.15 -106.15M204.980 804.670l106.15 -106.15M211.880 804.670l106.15 -106.15" stroke="#000" stroke-width="1.7" stroke-linecap="round" stroke-dasharray="0.01 2.4295" fill="none"/>
</g>
<rect x="180.76" y="701.48" width="20.36" height="100.42" fill="none" stroke="#222" stroke-width="1.4"/>
<clipPath id="k22"><rect x="201.13" y="656.85" width="20.36" height="145.05"/></clipPath>
<g clip-path="url(#k22)">
<rect x="201.13" y="656.85" width="20.36" height="145.05" fill="#fff"/>
<path d="M196.118 656.320H223.49M196.118 659.770H223.49M196.118 663.220H223.49M196.118 666.670H223.49M196.118 670.120H223.49M196.118 673.570H223.49M196.118 677.020H223.49M196.118 680.470H223.49M196.118 683.920H223.49M196.118 687.370H223.49M196.118 690.820H223.49M196.118 694.270H223.49M196.118 697.720H223.49M196.118 701.170H223.49M196.118 704.620H223.49M196.118 708.070H223.49M196.118 711.520H223.49M196.118 714.970H223.49M196.118 718.420H223.49M196.118 721.870H223.49M196.118 725.320H223.49M196.118 728.770H223.49M196.118 732.220H223.49M196.118 735.670H223.49M196.118 739.120H223.49M196.118 742.570H223.49M196.118 746.020H223.49M196.118 749.470H223.49M196.118 752.920H223.49M196.118 756.370H223.49M196.118 759.820H223.49M196.118 763.270H223.49M196.118 766.720H223.49M196.118 770.170H223.49M196.118 773.620H223.49M196.118 777.070H223.49M196.118 780.520H223.49M196.118 783.970H223.49M196.118 787.420H223.49M196.118 790.870H223.49M196.118 794.320H223.49M196.118 797.770H223.49M196.118 801.220H223.49M196.118 804.670H223.49M197.843 654.595H223.49M197.843 658.045H223.49M197.843 661.495H223.49M197.843 664.945H223.49M197.843 668.395H223.49M197.843 671.845H223.49M197.843 675.295H223.49M197.843 678.745H223.49M197.843 682.195H223.49M197.843 685.645H223.49M197.843 689.095H223.49M197.843 692.545H223.49M197.843 695.995H223.49M197.843 699.445H223.49M197.843 702.895H223.49M197.843 706.345H223.49M197.843 709.795H223.49M197.843 713.245H223.49M197.843 716.695H223.49M197.843 720.145H223.49M197.843 723.595H223.49M197.843 727.045H223.49M197.843 730.495H223.49M197.843 733.945H223.49M197.843 737.395H223.49M197.843 740.845H223.49M197.843 744.295H223.49M197.843 747.745H223.49M197.843 751.195H223.49M197.843 754.645H223.49M197.843 758.095H223.49M197.843 761.545H223.49M197.843 764.995H223.49M197.843 768.445H223.49M197.843 771.895H223.49M197.843 775.345H223.49M197.843 778.795H223.49M197.843 782.245H223.49M197.843 785.695H223.49M197.843 789.145H223.49M197.843 792.595H223.49M197.843 796.045H223.49M197.843 799.495H223.49M197.843 802.945H223.49" stroke="#000" stroke-width="1.725" stroke-dasharray="1.725 1.725" fill="none"/>
</g>
<rect x="201.13" y="656.85" width="20.36" height="145.05" fill="none" stroke="#222" stroke-width="1.4"/>
<rect x="252.03" y="693.91" width="20.36" height="107.99" fill="#fff" stroke="#222" stroke-width="1.4"/>
<clipPath id="k23"><rect x="272.39" y="665.61" width="20.36" height="136.29"/></clipPath>
<g clip-path="url(#k23)">
<rect x="272.39" y="665.61" width="20.36" height="136.29" fill="#fff"/>
<path d="M122.180 804.670l142.01 -142.01M129.080 804.670l142.01 -142.01M135.980 804.670l142.01 -142.01M142.880 804.670l142.01 -142.01M149.780 804.670l142.01 -142.01M156.680 804.670l142.01 -142.01M163.580 804.670l142.01 -142.01M170.480 804.670l142.01 -142.01M177.380 804.670l142.01 -142.01M184.280 804.670l142.01 -142.01M191.180 804.670l142.01 -142.01M198.080 804.670l142.01 -142.01M204.980 804.670l142.01 -142.01M211.880 804.670l142.01 -142.01M218.780 804.670l142.01 -142.01M225.680 804.670l142.01 -142.01M232.580 804.670l142.01 -142.01M239.480 804.670l142.01 -142.01M246.380 804.670l142.01 -142.01M253.280 804.670l142.01 -142.01M260.180 804.670l142.01 -142.01M267.080 804.670l142.01 -142.01M273.980 804.670l142.01 -142.01M280.880 804.670l142.01 -142.01M287.780 804.670l142.01 -142.01M294.680 804.670l142.01 -142.01M301.580 804.670l142.01 -142.01" stroke="#000" stroke-width="1.7" stroke-linecap="round" stroke-dasharray="0.01 2.4295" fill="none"/>
</g>
<rect x="272.39" y="665.61" width="20.36" height="136.29" fill="none" stroke="#222" stroke-width="1.4"/>
<clipPath id="k24"><rect x="292.76" y="688.33" width="20.36" height="113.57"/></clipPath>
<g clip-path="url(#k24)">
<rect x="292.76" y="688.33" width="20.36" height="113.57" fill="#fff"/>
<path d="M289.267 687.370H315.12M289.267 690.820H315.12M289.267 694.270H315.12M289.267 697.720H315.12M289.267 701.170H315.12M289.267 704.620H315.12M289.267 708.070H315.12M289.267 711.520H315.12M289.267 714.970H315.12M289.267 718.420H315.12M289.267 721.870H315.12M289.267 725.320H315.12M289.267 728.770H315.12M289.267 732.220H315.12M289.267 735.670H315.12M289.267 739.120H315.12M289.267 742.570H315.12M289.267 746.020H315.12M289.267 749.470H315.12M289.267 752.920H315.12M289.267 756.370H315.12M289.267 759.820H315.12M289.267 763.270H315.12M289.267 766.720H315.12M289.267 770.170H315.12M289.267 773.620H315.12M289.267 777.070H315.12M289.267 780.520H315.12M289.267 783.970H315.12M289.267 787.420H315.12M289.267 790.870H315.12M289.267 794.320H315.12M289.267 797.770H315.12M289.267 801.220H315.12M289.267 804.670H315.12M290.993 689.095H315.12M290.993 692.545H315.12M290.993 695.995H315.12M290.993 699.445H315.12M290.993 702.895H315.12M290.993 706.345H315.12M290.993 709.795H315.12M290.993 713.245H315.12M290.993 716.695H315.12M290.993 720.145H315.12M290.993 723.595H315.12M290.993 727.045H315.12M290.993 730.495H315.12M290.993 733.945H315.12M290.993 737.395H315.12M290.993 740.845H315.12M290.993 744.295H315.12M290.993 747.745H315.12M290.993 751.195H315.12M290.993 754.645H315.12M290.993 758.095H315.12M290.993 761.545H315.12M290.993 764.995H315.12M290.993 768.445H315.12M290.993 771.895H315.12M290.993 775.345H315.12M290.993 778.795H315.12M290.993 782.245H315.12M290.993 785.695H315.12M290.993 789.145H315.12M290.993 792.595H315.12M290.993 796.045H315.12M290.993 799.495H315.12M290.993 802.945H315.12" stroke="#000" stroke-width="1.725" stroke-dasharray="1.725 1.725" fill="none"/>
</g>
<rect x="292.76" y="688.33" width="20.36" height="113.57" fill="none" stroke="#222" stroke-width="1.4"/>
<rect x="343.66" y="733.76" width="20.36" height="68.14" fill="#fff" stroke="#222" stroke-width="1.4"/>
<clipPath id="k25"><rect x="364.02" y="752.49" width="20.36" height="49.41"/></clipPath>
<g clip-path="url(#k25)">
<rect x="364.02" y="752.49" width="20.36" height="49.41" fill="#fff"/>
<path d="M301.580 804.670l55.14 -55.14M308.480 804.670l55.14 -55.14M315.380 804.670l55.14 -55.14M322.280 804.670l55.14 -55.14M329.180 804.670l55.14 -55.14M336.080 804.670l55.14 -55.14M342.980 804.670l55.14 -55.14M349.880 804.670l55.14 -55.14M356.780 804.670l55.14 -55.14M363.680 804.670l55.14 -55.14M370.580 804.670l55.14 -55.14M377.480 804.670l55.14 -55.14M384.380 804.670l55.14 -55.14M391.280 804.670l55.14 -55.14" stroke="#000" stroke-width="1.7" stroke-linecap="round" stroke-dasharray="0.01 2.4295" fill="none"/>
</g>
<rect x="364.02" y="752.49" width="20.36" height="49.41" fill="none" stroke="#222" stroke-width="1.4"/>
<clipPath id="k26"><rect x="384.39" y="758.46" width="20.36" height="43.44"/></clipPath>
<g clip-path="url(#k26)">
<rect x="384.39" y="758.46" width="20.36" height="43.44" fill="#fff"/>
<path d="M382.418 756.370H406.75M382.418 759.820H406.75M382.418 763.270H406.75M382.418 766.720H406.75M382.418 770.170H406.75M382.418 773.620H406.75M382.418 777.070H406.75M382.418 780.520H406.75M382.418 783.970H406.75M382.418 787.420H406.75M382.418 790.870H406.75M382.418 794.320H406.75M382.418 797.770H406.75M382.418 801.220H406.75M382.418 804.670H406.75M384.143 758.095H406.75M384.143 761.545H406.75M384.143 764.995H406.75M384.143 768.445H406.75M384.143 771.895H406.75M384.143 775.345H406.75M384.143 778.795H406.75M384.143 782.245H406.75M384.143 785.695H406.75M384.143 789.145H406.75M384.143 792.595H406.75M384.143 796.045H406.75M384.143 799.495H406.75M384.143 802.945H406.75" stroke="#000" stroke-width="1.725" stroke-dasharray="1.725 1.725" fill="none"/>
</g>
<rect x="384.39" y="758.46" width="20.36" height="43.44" fill="none" stroke="#222" stroke-width="1.4"/>
<rect x="435.29" y="612.61" width="20.36" height="189.29" fill="#fff" stroke="#222" stroke-width="1.4"/>
<clipPath id="k27"><rect x="455.65" y="624.57" width="20.36" height="177.33"/></clipPath>
<g clip-path="url(#k27)">
<rect x="455.65" y="624.57" width="20.36" height="177.33" fill="#fff"/>
<path d="M267.080 804.670l183.06 -183.06M273.980 804.670l183.06 -183.06M280.880 804.670l183.06 -183.06M287.780 804.670l183.06 -183.06M294.680 804.670l183.06 -183.06M301.580 804.670l183.06 -183.06M308.480 804.670l183.06 -183.06M315.380 804.670l183.06 -183.06M322.280 804.670l183.06 -183.06M329.180 804.670l183.06 -183.06M336.080 804.670l183.06 -183.06M342.980 804.670l183.06 -183.06M349.880 804.670l183.06 -183.06M356.780 804.670l183.06 -183.06M363.680 804.670l183.06 -183.06M370.580 804.670l183.06 -183.06M377.480 804.670l183.06 -183.06M384.380 804.670l183.06 -183.06M391.280 804.670l183.06 -183.06M398.180 804.670l183.06 -183.06M405.080 804.670l183.06 -183.06M411.980 804.670l183.06 -183.06M418.880 804.670l183.06 -183.06M425.780 804.670l183.06 -183.06M432.680 804.670l183.06 -183.06M439.580 804.670l183.06 -183.06M446.480 804.670l183.06 -183.06M453.380 804.670l183.06 -183.06M460.280 804.670l183.06 -183.06M467.180 804.670l183.06 -183.06M474.080 804.670l183.06 -183.06M480.980 804.670l183.06 -183.06" stroke="#000" stroke-width="1.7" stroke-linecap="round" stroke-dasharray="0.01 2.4295" fill="none"/>
</g>
<rect x="455.65" y="624.57" width="20.36" height="177.33" fill="none" stroke="#222" stroke-width="1.4"/>
<clipPath id="k28"><rect x="476.02" y="636.12" width="20.36" height="165.78"/></clipPath>
<g clip-path="url(#k28)">
<rect x="476.02" y="636.12" width="20.36" height="165.78" fill="#fff"/>
<path d="M472.118 635.620H498.38M472.118 639.070H498.38M472.118 642.520H498.38M472.118 645.970H498.38M472.118 649.420H498.38M472.118 652.870H498.38M472.118 656.320H498.38M472.118 659.770H498.38M472.118 663.220H498.38M472.118 666.670H498.38M472.118 670.120H498.38M472.118 673.570H498.38M472.118 677.020H498.38M472.118 680.470H498.38M472.118 683.920H498.38M472.118 687.370H498.38M472.118 690.820H498.38M472.118 694.270H498.38M472.118 697.720H498.38M472.118 701.170H498.38M472.118 704.620H498.38M472.118 708.070H498.38M472.118 711.520H498.38M472.118 714.970H498.38M472.118 718.420H498.38M472.118 721.870H498.38M472.118 725.320H498.38M472.118 728.770H498.38M472.118 732.220H498.38M472.118 735.670H498.38M472.118 739.120H498.38M472.118 742.570H498.38M472.118 746.020H498.38M472.118 749.470H498.38M472.118 752.920H498.38M472.118 756.370H498.38M472.118 759.820H498.38M472.118 763.270H498.38M472.118 766.720H498.38M472.118 770.170H498.38M472.118 773.620H498.38M472.118 777.070H498.38M472.118 780.520H498.38M472.118 783.970H498.38M472.118 787.420H498.38M472.118 790.870H498.38M472.118 794.320H498.38M472.118 797.770H498.38M472.118 801.220H498.38M472.118 804.670H498.38M473.843 633.895H498.38M473.843 637.345H498.38M473.843 640.795H498.38M473.843 644.245H498.38M473.843 647.695H498.38M473.843 651.145H498.38M473.843 654.595H498.38M473.843 658.045H498.38M473.843 661.495H498.38M473.843 664.945H498.38M473.843 668.395H498.38M473.843 671.845H498.38M473.843 675.295H498.38M473.843 678.745H498.38M473.843 682.195H498.38M473.843 685.645H498.38M473.843 689.095H498.38M473.843 692.545H498.38M473.843 695.995H498.38M473.843 699.445H498.38M473.843 702.895H498.38M473.843 706.345H498.38M473.843 709.795H498.38M473.843 713.245H498.38M473.843 716.695H498.38M473.843 720.145H498.38M473.843 723.595H498.38M473.843 727.045H498.38M473.843 730.495H498.38M473.843 733.945H498.38M473.843 737.395H498.38M473.843 740.845H498.38M473.843 744.295H498.38M473.843 747.745H498.38M473.843 751.195H498.38M473.843 754.645H498.38M473.843 758.095H498.38M473.843 761.545H498.38M473.843 764.995H498.38M473.843 768.445H498.38M473.843 771.895H498.38M473.843 775.345H498.38M473.843 778.795H498.38M473.843 782.245H498.38M473.843 785.695H498.38M473.843 789.145H498.38M473.843 792.595H498.38M473.843 796.045H498.38M473.843 799.495H498.38M473.843 802.945H498.38" stroke="#000" stroke-width="1.725" stroke-dasharray="1.725 1.725" fill="none"/>
</g>
<rect x="476.02" y="636.12" width="20.36" height="165.78" fill="none" stroke="#222" stroke-width="1.4"/>
<rect x="526.92" y="587.11" width="20.36" height="214.79" fill="#fff" stroke="#222" stroke-width="1.4"/>
<clipPath id="k29"><rect x="547.28" y="587.51" width="20.36" height="214.39"/></clipPath>
<g clip-path="url(#k29)">
<rect x="547.28" y="587.51" width="20.36" height="214.39" fill="#fff"/>
<path d="M322.280 804.670l220.12 -220.12M329.180 804.670l220.12 -220.12M336.080 804.670l220.12 -220.12M342.980 804.670l220.12 -220.12M349.880 804.670l220.12 -220.12M356.780 804.670l220.12 -220.12M363.680 804.670l220.12 -220.12M370.580 804.670l220.12 -220.12M377.480 804.670l220.12 -220.12M384.380 804.670l220.12 -220.12M391.280 804.670l220.12 -220.12M398.180 804.670l220.12 -220.12M405.080 804.670l220.12 -220.12M411.980 804.670l220.12 -220.12M418.880 804.670l220.12 -220.12M425.780 804.670l220.12 -220.12M432.680 804.670l220.12 -220.12M439.580 804.670l220.12 -220.12M446.480 804.670l220.12 -220.12M453.380 804.670l220.12 -220.12M460.280 804.670l220.12 -220.12M467.180 804.670l220.12 -220.12M474.080 804.670l220.12 -220.12M480.980 804.670l220.12 -220.12M487.880 804.670l220.12 -220.12M494.780 804.670l220.12 -220.12M501.680 804.670l220.12 -220.12M508.580 804.670l220.12 -220.12M515.480 804.670l220.12 -220.12M522.380 804.670l220.12 -220.12M529.280 804.670l220.12 -220.12M536.180 804.670l220.12 -220.12M543.080 804.670l220.12 -220.12M549.980 804.670l220.12 -220.12M556.880 804.670l220.12 -220.12M563.780 804.670l220.12 -220.12M570.680 804.670l220.12 -220.12M577.580 804.670l220.12 -220.12" stroke="#000" stroke-width="1.7" stroke-linecap="round" stroke-dasharray="0.01 2.4295" fill="none"/>
</g>
<rect x="547.28" y="587.51" width="20.36" height="214.39" fill="none" stroke="#222" stroke-width="1.4"/>
<clipPath id="k30"><rect x="567.65" y="593.88" width="20.36" height="208.02"/></clipPath>
<g clip-path="url(#k30)">
<rect x="567.65" y="593.88" width="20.36" height="208.02" fill="#fff"/>
<path d="M565.268 594.220H590.01M565.268 597.670H590.01M565.268 601.120H590.01M565.268 604.570H590.01M565.268 608.020H590.01M565.268 611.470H590.01M565.268 614.920H590.01M565.268 618.370H590.01M565.268 621.820H590.01M565.268 625.270H590.01M565.268 628.720H590.01M565.268 632.170H590.01M565.268 635.620H590.01M565.268 639.070H590.01M565.268 642.520H590.01M565.268 645.970H590.01M565.268 649.420H590.01M565.268 652.870H590.01M565.268 656.320H590.01M565.268 659.770H590.01M565.268 663.220H590.01M565.268 666.670H590.01M565.268 670.120H590.01M565.268 673.570H590.01M565.268 677.020H590.01M565.268 680.470H590.01M565.268 683.920H590.01M565.268 687.370H590.01M565.268 690.820H590.01M565.268 694.270H590.01M565.268 697.720H590.01M565.268 701.170H590.01M565.268 704.620H590.01M565.268 708.070H590.01M565.268 711.520H590.01M565.268 714.970H590.01M565.268 718.420H590.01M565.268 721.870H590.01M565.268 725.320H590.01M565.268 728.770H590.01M565.268 732.220H590.01M565.268 735.670H590.01M565.268 739.120H590.01M565.268 742.570H590.01M565.268 746.020H590.01M565.268 749.470H590.01M565.268 752.920H590.01M565.268 756.370H590.01M565.268 759.820H590.01M565.268 763.270H590.01M565.268 766.720H590.01M565.268 770.170H590.01M565.268 773.620H590.01M565.268 777.070H590.01M565.268 780.520H590.01M565.268 783.970H590.01M565.268 787.420H590.01M565.268 790.870H590.01M565.268 794.320H590.01M565.268 797.770H590.01M565.268 801.220H590.01M565.268 804.670H590.01M566.993 592.495H590.01M566.993 595.945H590.01M566.993 599.395H590.01M566.993 602.845H590.01M566.993 606.295H590.01M566.993 609.745H590.01M566.993 613.195H590.01M566.993 616.645H590.01M566.993 620.095H590.01M566.993 623.545H590.01M566.993 626.995H590.01M566.993 630.445H590.01M566.993 633.895H590.01M566.993 637.345H590.01M566.993 640.795H590.01M566.993 644.245H590.01M566.993 647.695H590.01M566.993 651.145H590.01M566.993 654.595H590.01M566.993 658.045H590.01M566.993 661.495H590.01M566.993 664.945H590.01M566.993 668.395H590.01M566.993 671.845H590.01M566.993 675.295H590.01M566.993 678.745H590.01M566.993 682.195H590.01M566.993 685.645H590.01M566.993 689.095H590.01M566.993 692.545H590.01M566.993 695.995H590.01M566.993 699.445H590.01M566.993 702.895H590.01M566.993 706.345H590.01M566.993 709.795H590.01M566.993 713.245H590.01M566.993 716.695H590.01M566.993 720.145H590.01M566.993 723.595H590.01M566.993 727.045H590.01M566.993 730.495H590.01M566.993 733.945H590.01M566.993 737.395H590.01M566.993 740.845H590.01M566.993 744.295H590.01M566.993 747.745H590.01M566.993 751.195H590.01M566.993 754.645H590.01M566.993 758.095H590.01M566.993 761.545H590.01M566.993 764.995H590.01M566.993 768.445H590.01M566.993 771.895H590.01M566.993 775.345H590.01M566.993 778.795H590.01M566.993 782.245H590.01M566.993 785.695H590.01M566.993 789.145H590.01M566.993 792.595H590.01M566.993 796.045H590.01M566.993 799.495H590.01M566.993 802.945H590.01" stroke="#000" stroke-width="1.725" stroke-dasharray="1.725 1.725" fill="none"/>
</g>
<rect x="567.65" y="593.88" width="20.36" height="208.02" fill="none" stroke="#222" stroke-width="1.4"/>
<path d="M78.95 564.19V622.77M75.15 564.19H82.75M75.15 622.77H82.75" stroke="#222" stroke-width="1.4" fill="none"/>
<path d="M99.31 645.69V679.96M95.52 645.69H103.11M95.52 679.96H103.11" stroke="#222" stroke-width="1.4" fill="none"/>
<path d="M119.68 635.73V663.62M115.88 635.73H123.48M115.88 663.62H123.48" stroke="#222" stroke-width="1.4" fill="none"/>
<path d="M170.58 738.54V774.40M166.78 738.54H174.38M166.78 774.40H174.38" stroke="#222" stroke-width="1.4" fill="none"/>
<path d="M190.94 689.92V713.03M187.14 689.92H194.75M187.14 713.03H194.75" stroke="#222" stroke-width="1.4" fill="none"/>
<path d="M211.31 647.48V666.21M207.51 647.48H215.11M207.51 666.21H215.11" stroke="#222" stroke-width="1.4" fill="none"/>
<path d="M262.21 634.53V753.28M258.41 634.53H266.01M258.41 753.28H266.01" stroke="#222" stroke-width="1.4" fill="none"/>
<path d="M282.58 649.08V682.15M278.78 649.08H286.38M278.78 682.15H286.38" stroke="#222" stroke-width="1.4" fill="none"/>
<path d="M302.94 674.58V702.08M299.14 674.58H306.74M299.14 702.08H306.74" stroke="#222" stroke-width="1.4" fill="none"/>
<path d="M353.84 696.90V770.62M350.04 696.90H357.64M350.04 770.62H357.64" stroke="#222" stroke-width="1.4" fill="none"/>
<path d="M374.20 741.93V763.05M370.40 741.93H378.00M370.40 763.05H378.00" stroke="#222" stroke-width="1.4" fill="none"/>
<path d="M394.57 749.90V767.03M390.77 749.90H398.37M390.77 767.03H398.37" stroke="#222" stroke-width="1.4" fill="none"/>
<path d="M445.47 594.28V630.94M441.67 594.28H449.27M441.67 630.94H449.27" stroke="#222" stroke-width="1.4" fill="none"/>
<path d="M465.83 617.39V631.74M462.03 617.39H469.63M462.03 631.74H469.63" stroke="#222" stroke-width="1.4" fill="none"/>
<path d="M486.20 629.55V642.70M482.40 629.55H490.00M482.40 642.70H490.00" stroke="#222" stroke-width="1.4" fill="none"/>
<path d="M537.10 569.57V604.64M533.30 569.57H540.90M533.30 604.64H540.90" stroke="#222" stroke-width="1.4" fill="none"/>
<path d="M557.47 581.33V593.68M553.67 581.33H561.26M553.67 593.68H561.26" stroke="#222" stroke-width="1.4" fill="none"/>
<path d="M577.83 588.70V599.06M574.03 588.70H581.63M574.03 599.06H581.63" stroke="#222" stroke-width="1.4" fill="none"/>
<path d="M53.50 801.90H603.28" stroke="#999" stroke-width="1.8"/>
<path d="M53.50 801.90v5.5M145.13 801.90v5.5M236.76 801.90v5.5M328.39 801.90v5.5M420.02 801.90v5.5M511.65 801.90v5.5M603.28 801.90v5.5" stroke="#888" stroke-width="1.3"/>
<path d="M53.50 483.10V801.90" stroke="#888" stroke-width="1.5"/>
<path d="M48.20 801.90H53.50M48.20 762.05H53.50M48.20 722.20H53.50M48.20 682.35H53.50M48.20 642.50H53.50M48.20 602.65H53.50M48.20 562.80H53.50M48.20 522.95H53.50M48.20 483.10H53.50" stroke="#888" stroke-width="1.4"/>
<text x="28.72" y="806.56" font-size="15.5">0</text>
<text x="28.87" y="766.71" font-size="15.5">1</text>
<text x="28.87" y="726.86" font-size="15.5">2</text>
<text x="28.80" y="687.01" font-size="15.5">3</text>
<text x="28.56" y="647.16" font-size="15.5">4</text>
<text x="28.72" y="607.31" font-size="15.5">5</text>
<text x="28.80" y="567.46" font-size="15.5">6</text>
<text x="30.04" y="527.61" font-size="15.5">7</text>
<text x="28.72" y="487.76" font-size="15.5">8</text>
<text x="295.94" y="36.10" font-size="28" font-weight="bold" textLength="170.43" lengthAdjust="spacingAndGlyphs" fill="#000" stroke="#000" stroke-width="0.55">Cigarette Use</text>
<text x="307.35" y="505.60" font-size="28" font-weight="bold" textLength="151.14" lengthAdjust="spacingAndGlyphs" fill="#000" stroke="#000" stroke-width="0.55">Alcohol Use</text>
<text transform="translate(18.90,257.33) rotate(-90)" textLength="168.92" lengthAdjust="spacingAndGlyphs" font-size="15" font-weight="bold" stroke="#000" stroke-width="0.3">mean Approach Ratings</text>
<text transform="translate(18.90,727.33) rotate(-90)" textLength="168.92" lengthAdjust="spacingAndGlyphs" font-size="15" font-weight="bold" stroke="#000" stroke-width="0.3">mean Approach Ratings</text>
<text x="67.11" y="358.80" font-size="15" font-weight="bold" textLength="72.09" lengthAdjust="spacingAndGlyphs" fill="#000" stroke="#000" stroke-width="0.3">Cigarettes</text>
<text x="173.83" y="358.80" font-size="15" font-weight="bold" textLength="54.23" lengthAdjust="spacingAndGlyphs" fill="#000" stroke="#000" stroke-width="0.3">Alcohol</text>
<text x="264.68" y="358.80" font-size="15" font-weight="bold" textLength="73.09" lengthAdjust="spacingAndGlyphs" fill="#000" stroke="#000" stroke-width="0.3">Marijuana</text>
<text x="380.74" y="358.80" font-size="15" font-weight="bold" textLength="39.16" lengthAdjust="spacingAndGlyphs" fill="#000" stroke="#000" stroke-width="0.3">Crack</text>
<text x="579.35" y="358.80" font-size="15" font-weight="bold" textLength="35.57" lengthAdjust="spacingAndGlyphs" fill="#000" stroke="#000" stroke-width="0.3">Food</text>
<text x="480.00" y="358.80" font-size="15" font-weight="bold" textLength="35.18" lengthAdjust="spacingAndGlyphs" fill="#000" stroke="#000" stroke-width="0.3">Non-</text>
<text x="465.14" y="379.50" font-size="15" font-weight="bold" textLength="65.31" lengthAdjust="spacingAndGlyphs" fill="#000" stroke="#000" stroke-width="0.3">Alcoholic</text>
<text x="306.71" y="405.90" font-size="15" font-weight="bold" textLength="88.30" lengthAdjust="spacingAndGlyphs" fill="#000" stroke="#000" stroke-width="0.3">Cue Content</text>
<text x="63.69" y="828.70" font-size="15" font-weight="bold" textLength="72.09" lengthAdjust="spacingAndGlyphs" fill="#000" stroke="#000" stroke-width="0.3">Cigarettes</text>
<text x="162.76" y="828.70" font-size="15" font-weight="bold" textLength="54.23" lengthAdjust="spacingAndGlyphs" fill="#000" stroke="#000" stroke-width="0.3">Alcohol</text>
<text x="245.96" y="828.70" font-size="15" font-weight="bold" textLength="73.09" lengthAdjust="spacingAndGlyphs" fill="#000" stroke="#000" stroke-width="0.3">Marijuana</text>
<text x="354.36" y="828.70" font-size="15" font-weight="bold" textLength="39.16" lengthAdjust="spacingAndGlyphs" fill="#000" stroke="#000" stroke-width="0.3">Crack</text>
<text x="537.68" y="828.70" font-size="15" font-weight="bold" textLength="35.57" lengthAdjust="spacingAndGlyphs" fill="#000" stroke="#000" stroke-width="0.3">Food</text>
<text x="446.67" y="828.70" font-size="15" font-weight="bold" textLength="35.18" lengthAdjust="spacingAndGlyphs" fill="#000" stroke="#000" stroke-width="0.3">Non-</text>
<text x="431.81" y="849.90" font-size="15" font-weight="bold" textLength="65.31" lengthAdjust="spacingAndGlyphs" fill="#000" stroke="#000" stroke-width="0.3">Alcoholic</text>
<text x="284.10" y="876.00" font-size="15" font-weight="bold" textLength="88.50" lengthAdjust="spacingAndGlyphs" fill="#000" stroke="#000" stroke-width="0.3">Cue Content</text>
<rect x="675.6" y="155.50" width="9.6" height="9.4" fill="#fff" stroke="#000" stroke-width="1.3"/>
<text x="689.61" y="164.90" font-size="14.5" font-weight="bold" textLength="38.23" lengthAdjust="spacingAndGlyphs" fill="#000" stroke="#000" stroke-width="0.3">None</text>
<clipPath id="k31"><rect x="675.60" y="186.10" width="9.60" height="9.40"/></clipPath>
<g clip-path="url(#k31)">
<rect x="675.60" y="186.10" width="9.60" height="9.40" fill="#fff"/>
<path d="M669.900 194.300l5.195 -5.195M676.800 194.300l5.195 -5.195M683.700 194.300l5.195 -5.195" stroke="#000" stroke-width="1.7" stroke-linecap="round" stroke-dasharray="0.01 2.4295" fill="none"/>
</g>
<rect x="675.6" y="186.10" width="9.6" height="9.4" fill="none" stroke="#000" stroke-width="1.3"/>
<text x="690.15" y="195.50" font-size="14.5" font-weight="bold" textLength="65.79" lengthAdjust="spacingAndGlyphs" fill="#000" stroke="#000" stroke-width="0.3">5 per day</text>
<clipPath id="k32"><rect x="675.60" y="216.70" width="9.60" height="9.40"/></clipPath>
<g clip-path="url(#k32)">
<rect x="675.60" y="216.70" width="9.60" height="9.40" fill="#fff"/>
<path d="M652.225 228.775l15.12 -15.12M659.125 228.775l15.12 -15.12M666.025 228.775l15.12 -15.12M672.925 228.775l15.12 -15.12M679.825 228.775l15.12 -15.12M686.725 228.775l15.12 -15.12M693.625 228.775l15.12 -15.12" stroke="#000" stroke-width="1.7" stroke-linecap="round" stroke-dasharray="0.01 2.4295" fill="none"/>
</g>
<rect x="675.6" y="216.70" width="9.6" height="9.4" fill="none" stroke="#000" stroke-width="1.3"/>
<text x="689.62" y="226.10" font-size="14.5" font-weight="bold" textLength="74.54" lengthAdjust="spacingAndGlyphs" fill="#000" stroke="#000" stroke-width="0.3">10 per day</text>
<clipPath id="k33"><rect x="675.60" y="247.40" width="9.60" height="9.40"/></clipPath>
<g clip-path="url(#k33)">
<rect x="675.60" y="247.40" width="9.60" height="9.40" fill="#fff"/>
<path d="M672.148 248.260H687.20M672.148 251.710H687.20M672.148 255.160H687.20M672.148 258.610H687.20M673.873 246.535H687.20M673.873 249.985H687.20M673.873 253.435H687.20M673.873 256.885H687.20M673.873 260.335H687.20" stroke="#000" stroke-width="1.725" stroke-dasharray="1.725 1.725" fill="none"/>
</g>
<rect x="675.6" y="247.40" width="9.6" height="9.4" fill="none" stroke="#000" stroke-width="1.3"/>
<text x="690.08" y="256.80" font-size="14.5" font-weight="bold" textLength="74.18" lengthAdjust="spacingAndGlyphs" fill="#000" stroke="#000" stroke-width="0.3">20 per day</text>
<rect x="633.6" y="640.60" width="8.8" height="9.4" fill="#fff" stroke="#222" stroke-width="1.3"/>
<text x="646.73" y="650.20" font-size="14.5" font-weight="bold" textLength="51.19" lengthAdjust="spacingAndGlyphs" fill="#000" stroke="#000" stroke-width="0.3">No Use</text>
<clipPath id="k34"><rect x="633.60" y="671.80" width="8.80" height="9.40"/></clipPath>
<g clip-path="url(#k34)">
<rect x="633.60" y="671.80" width="8.80" height="9.40" fill="#fff"/>
<path d="M610.225 683.875l15.12 -15.12M617.125 683.875l15.12 -15.12M624.025 683.875l15.12 -15.12M630.925 683.875l15.12 -15.12M637.825 683.875l15.12 -15.12M644.725 683.875l15.12 -15.12M651.625 683.875l15.12 -15.12" stroke="#000" stroke-width="1.7" stroke-linecap="round" stroke-dasharray="0.01 2.4295" fill="none"/>
</g>
<rect x="633.6" y="671.80" width="8.8" height="9.4" fill="none" stroke="#222" stroke-width="1.3"/>
<text x="646.70" y="681.40" font-size="14.5" font-weight="bold" textLength="122.57" lengthAdjust="spacingAndGlyphs" fill="#000" stroke="#000" stroke-width="0.3">Non-Problematic</text>
<clipPath id="k35"><rect x="633.60" y="701.90" width="8.80" height="9.40"/></clipPath>
<g clip-path="url(#k35)">
<rect x="633.60" y="701.90" width="8.80" height="9.40" fill="#fff"/>
<path d="M630.148 702.760H644.40M630.148 706.210H644.40M630.148 709.660H644.40M630.148 713.110H644.40M631.873 701.035H644.40M631.873 704.485H644.40M631.873 707.935H644.40M631.873 711.385H644.40M631.873 714.835H644.40" stroke="#000" stroke-width="1.725" stroke-dasharray="1.725 1.725" fill="none"/>
</g>
<rect x="633.6" y="701.90" width="8.8" height="9.4" fill="none" stroke="#222" stroke-width="1.3"/>
<text x="646.71" y="711.50" font-size="14.5" font-weight="bold" textLength="87.34" lengthAdjust="spacingAndGlyphs" fill="#000" stroke="#000" stroke-width="0.3">Problematic</text>
</svg></body></html>
